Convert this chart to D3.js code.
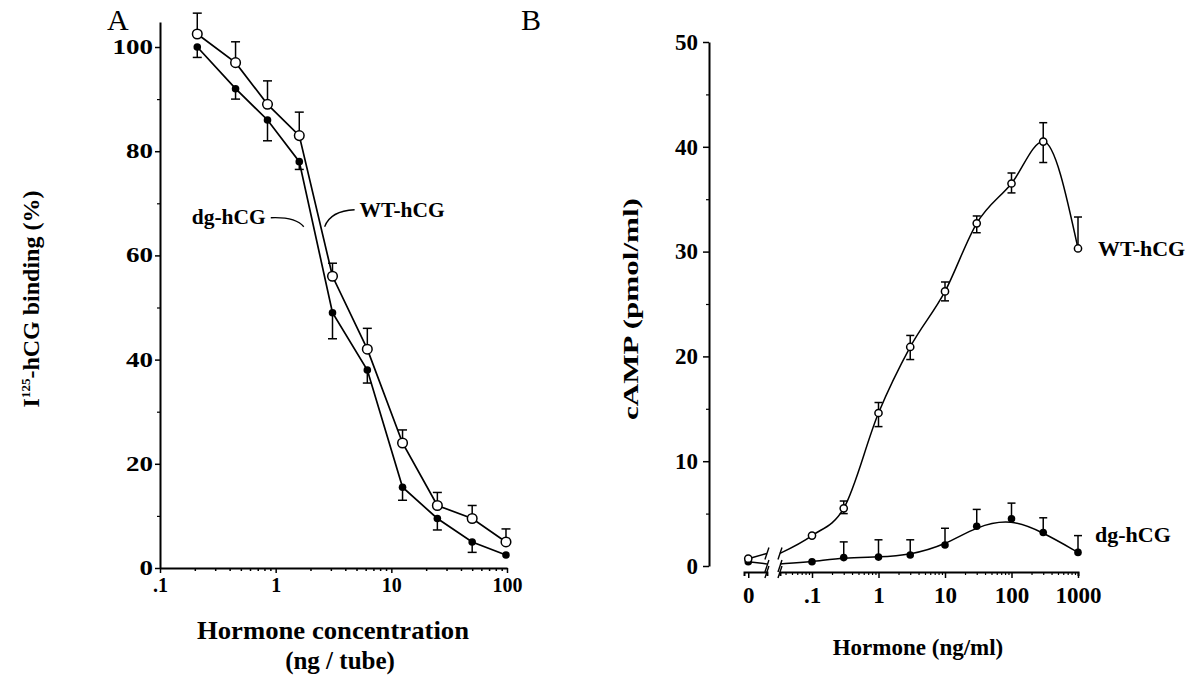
<!DOCTYPE html>
<html>
<head>
<meta charset="utf-8">
<script src="https://cdn.jsdelivr.net/npm/d3@7/dist/d3.min.js"></script>
<style>
  body { margin: 0; background: #fff; }
  text { font-family: "Liberation Serif", "Times New Roman", serif; font-weight: bold; fill: #000; }
  .axis path, .axis line { stroke: #000; }
</style>
</head>
<body>
<svg id="fig" width="1203" height="679"></svg>
<script>
// ---- panel A: I125-hCG binding vs hormone concentration (ng / tube)
var concA = [0.21, 0.45, 0.85, 1.6, 3.1, 6.2, 12.5, 25, 50, 98];
var wtA   = [102.5, 97, 89, 83, 56, 42, 24, 12, 9.5, 5];
var wtAHi = [106.5, 101, 93.5, 87.5, 58.5, 46, 26.5, 14.5, 12, 7.5];
var dgA   = [100, 92, 86, 78, 49, 38, 15.5, 9.5, 5, 2.5];
var dgALo = [98, 90, 82, 76.5, 44, 35.5, 13, 7.3, 3, null];
var xTicksA = [0.1, 1, 10, 100],
    yTicksA = [0, 20, 40, 60, 80, 100],
    yMinorA = [10, 30, 50, 70, 90];

// ---- panel B: cAMP vs hormone (ng/ml); 0 is drawn on its own piece of axis
var concB = [0, 0.1, 0.3, 1, 3, 10, 30, 100, 300, 1000];
var wtB   = [0.7, 2.9, 5.5, 14.6, 20.9, 26.2, 32.7, 36.5, 40.5, 30.3];
var wtBHi = [null, null, 6.2, 15.6, 22.0, 27.1, 33.4, 37.5, 42.3, 33.3];
var wtBLo = [null, null, 5.0, 13.3, 19.7, 25.3, 31.8, 35.6, 38.5, null];
var dgB   = [0.4, 0.4, 0.8, 0.85, 1.05, 2.0, 3.8, 4.5, 3.2, 1.3];
var dgBHi = [null, null, 2.3, 2.5, 2.5, 3.6, 5.4, 6.0, 4.6, 2.9];
var wtStub = [1.2, 1.2],   // curve values at the two sides of the axis break
    dgStub = [0.2, 0.2];
var xTicksB = [0.1, 1, 10, 100, 1000],
    yTicksB = [0, 10, 20, 30, 40, 50],
    yMinorB = [5, 15, 25, 35, 45];
var zeroAt = 0.011,            // where the "0" column sits on the log axis
    seg1 = [0.0095, 0.021],    // short axis piece holding 0
    seg2 = [0.033, 1000];      // main log axis piece

var svg = d3.select("#fig");

function styleAxis(g, w) {
  g.select(".domain").attr("stroke-width", w);
  g.selectAll(".tick line").attr("stroke-width", 1.5);
}

function minorsOf(scale, majors) {
  return scale.ticks().filter(function(t) {
    return majors.every(function(m) { return Math.abs(t - m) / m > 1e-6; });
  });
}

// =================== panel A ===================
var xA = d3.scaleLog().domain([0.1, 100]).range([160, 507]),
    yA = d3.scaleLinear().domain([0, 104.8]).range([568, 22]);

var gA = svg.append("g");

var axA = gA.append("g").attr("class", "axis")
    .attr("transform", "translate(0," + yA(0) + ")")
    .call(d3.axisBottom(xA).tickValues(xTicksA).tickSize(5).tickSizeOuter(0).tickPadding(5)
      .tickFormat(function(d) { return d < 1 ? ".1" : d3.format("d")(d); }));
axA.selectAll("text").style("font-size", "20px");
styleAxis(axA, 2);

gA.append("g").attr("class", "axis")
    .attr("transform", "translate(0," + yA(0) + ")")
    .call(d3.axisBottom(xA).tickValues(minorsOf(xA, xTicksA)).tickSize(3).tickFormat(""))
    .call(function(g) { g.select(".domain").remove(); g.selectAll("line").attr("stroke-width", 1.5); });

var ayA = gA.append("g").attr("class", "axis")
    .attr("transform", "translate(" + xA(0.1) + ",0)")
    .call(d3.axisLeft(yA).tickValues(yTicksA).tickSize(5).tickSizeOuter(0).tickPadding(2));
ayA.selectAll("text").style("font-size", "20px")
    .attr("textLength", function(d) { return String(d).length * 13.5; })
    .attr("lengthAdjust", "spacingAndGlyphs");
styleAxis(ayA, 2);

gA.append("g").attr("class", "axis")
    .attr("transform", "translate(" + xA(0.1) + ",0)")
    .call(d3.axisLeft(yA).tickValues(yMinorA).tickSize(3).tickFormat(""))
    .call(function(g) { g.select(".domain").remove(); g.selectAll("line").attr("stroke-width", 1.2); });

var ptsWtA = concA.map(function(c, i) { return { x: c, y: wtA[i], e: wtAHi[i] }; });
var ptsDgA = concA.map(function(c, i) { return { x: c, y: dgA[i], e: dgALo[i] }; });

var lineA = d3.line().x(function(d) { return xA(d.x); }).y(function(d) { return yA(d.y); });

[ptsWtA, ptsDgA].forEach(function(pts) {
  gA.append("path").datum(pts).attr("d", lineA)
      .attr("fill", "none").attr("stroke", "#000").attr("stroke-width", 1.7);
});

function errorBars(g, pts, xs, ys, cap) {
  var eb = g.append("g").selectAll("g").data(pts.filter(function(d) { return d.e != null; }))
      .join("g").attr("stroke", "#000").attr("stroke-width", 1.5);
  eb.append("line")
      .attr("x1", function(d) { return xs(d.x); }).attr("x2", function(d) { return xs(d.x); })
      .attr("y1", function(d) { return ys(d.y); }).attr("y2", function(d) { return ys(d.e); });
  eb.append("line")
      .attr("x1", function(d) { return xs(d.x) - cap; }).attr("x2", function(d) { return xs(d.x) + cap; })
      .attr("y1", function(d) { return ys(d.e); }).attr("y2", function(d) { return ys(d.e); });
}
errorBars(gA, ptsWtA, xA, yA, 4.5);
errorBars(gA, ptsDgA, xA, yA, 4.5);

gA.append("g").selectAll("circle").data(ptsDgA).join("circle")
    .attr("cx", function(d) { return xA(d.x); }).attr("cy", function(d) { return yA(d.y); })
    .attr("r", 3.8).attr("fill", "#000");
gA.append("g").selectAll("circle").data(ptsWtA).join("circle")
    .attr("cx", function(d) { return xA(d.x); }).attr("cy", function(d) { return yA(d.y); })
    .attr("r", 4.8).attr("fill", "#fff").attr("stroke", "#000").attr("stroke-width", 1.5);

// leader labels
var dgTip = [xA(1.75), yA(65.5)], wtTip = [xA(2.65), yA(65.5)];
gA.append("path")
    .attr("d", "M" + (dgTip[0] - 33) + "," + (dgTip[1] - 9) + " Q" + (dgTip[0] - 8) + "," + (dgTip[1] - 10) + " " + dgTip[0] + "," + dgTip[1])
    .attr("fill", "none").attr("stroke", "#000").attr("stroke-width", 1.3);
gA.append("path")
    .attr("d", "M" + wtTip[0] + "," + wtTip[1] + " Q" + (wtTip[0] + 6) + "," + (wtTip[1] - 16) + " " + (wtTip[0] + 30) + "," + (wtTip[1] - 17))
    .attr("fill", "none").attr("stroke", "#000").attr("stroke-width", 1.3);
gA.append("text").attr("x", dgTip[0] - 38).attr("y", dgTip[1] - 3).attr("text-anchor", "end")
    .style("font-size", "20px").attr("textLength", 74).attr("lengthAdjust", "spacingAndGlyphs")
    .text("dg-hCG");
gA.append("text").attr("x", wtTip[0] + 35).attr("y", wtTip[1] - 10)
    .style("font-size", "20px").attr("textLength", 85).attr("lengthAdjust", "spacingAndGlyphs")
    .text("WT-hCG");

gA.append("text").attr("x", 333).attr("y", 639).attr("text-anchor", "middle")
    .style("font-size", "25px").attr("textLength", 272).attr("lengthAdjust", "spacingAndGlyphs")
    .text("Hormone concentration");
gA.append("text").attr("x", 340).attr("y", 669).attr("text-anchor", "middle")
    .style("font-size", "25px").text("(ng / tube)");

var yTitleA = gA.append("text").attr("transform", "translate(39,299) rotate(-90)")
    .attr("text-anchor", "middle").style("font-size", "24px");
yTitleA.append("tspan").text("I");
yTitleA.append("tspan").attr("dy", -9).style("font-size", "13px").text("125");
yTitleA.append("tspan").attr("dy", 9).text("-hCG binding (%)");

svg.append("text").attr("x", 107).attr("y", 30).style("font-weight", "normal")
    .style("font-size", "30px").text("A");

// =================== panel B ===================
var xB = d3.scaleLog().domain([0.1, 1000]).range([812, 1078]),
    yB = d3.scaleLinear().domain([0, 50]).range([566, 42]);
var axisY = 572;
function px(c) { return xB(c === 0 ? zeroAt : c); }

var gB = svg.append("g");

var ayB = gB.append("g").attr("class", "axis")
    .attr("transform", "translate(709,0)")
    .call(d3.axisLeft(yB).tickValues(yTicksB).tickSize(6).tickSizeOuter(0).tickPadding(5));
ayB.selectAll("text").style("font-size", "23px");
styleAxis(ayB, 2);
gB.append("g").attr("class", "axis")
    .attr("transform", "translate(709,0)")
    .call(d3.axisLeft(yB).tickValues(yMinorB).tickSize(3).tickFormat(""))
    .call(function(g) { g.select(".domain").remove(); g.selectAll("line").attr("stroke-width", 1.2); });

var xSeg2 = xB.copy().domain(seg2).range(seg2.map(function(v) { return xB(v); }));
var xSeg1 = xB.copy().domain(seg1).range(seg1.map(function(v) { return xB(v); }));

var axB = gB.append("g").attr("class", "axis")
    .attr("transform", "translate(0," + axisY + ")")
    .call(d3.axisBottom(xSeg2).tickValues(xTicksB).tickSize(6).tickSizeOuter(4).tickPadding(9)
      .tickFormat(function(d) { return d < 1 ? ".1" : d3.format("d")(d); }));
axB.selectAll("text").style("font-size", "23px");
styleAxis(axB, 2);
gB.append("g").attr("class", "axis")
    .attr("transform", "translate(0," + axisY + ")")
    .call(d3.axisBottom(xSeg2).tickValues(minorsOf(xSeg2, xTicksB)).tickSize(3).tickFormat(""))
    .call(function(g) { g.select(".domain").remove(); g.selectAll("line").attr("stroke-width", 1.2); });

var axB0 = gB.append("g").attr("class", "axis")
    .attr("transform", "translate(0," + axisY + ")")
    .call(d3.axisBottom(xSeg1).tickValues([zeroAt]).tickSize(6).tickSizeOuter(4).tickPadding(9)
      .tickFormat(function() { return "0"; }));
axB0.selectAll("text").style("font-size", "23px");
styleAxis(axB0, 2);

var ptsWtB = concB.map(function(c, i) { return { x: c, y: wtB[i], lo: wtBLo[i], hi: wtBHi[i] }; });
var ptsDgB = concB.map(function(c, i) { return { x: c, y: dgB[i], lo: null, hi: dgBHi[i] }; });

var lineB = d3.line().x(function(d) { return px(d.x); }).y(function(d) { return yB(d.y); });

function drawCurve(pts, stub, curve) {
  gB.append("path").datum([pts[0], { x: seg1[1], y: stub[0] }]).attr("d", lineB)
      .attr("fill", "none").attr("stroke", "#000").attr("stroke-width", 1.5);
  gB.append("path").datum([{ x: seg2[0], y: stub[1] }].concat(pts.slice(1)))
      .attr("d", lineB.curve(curve))
      .attr("fill", "none").attr("stroke", "#000").attr("stroke-width", 1.5);
  lineB.curve(d3.curveLinear);
}
drawCurve(ptsWtB, wtStub, d3.curveMonotoneX);
drawCurve(ptsDgB, dgStub, d3.curveBasis);

// break marks on the curves and the axis
var breaks = [];
[seg1[1], seg2[0]].forEach(function(b, k) {
  breaks.push({ x: xB(b), y: yB(wtStub[k]) });
  breaks.push({ x: xB(b), y: yB(dgStub[k]) + 2 });
  breaks.push({ x: xB(b), y: axisY });
});
gB.append("g").selectAll("line").data(breaks).join("line")
    .attr("x1", function(d) { return d.x - 2; }).attr("y1", function(d) { return d.y + 6; })
    .attr("x2", function(d) { return d.x + 2; }).attr("y2", function(d) { return d.y - 6; })
    .attr("stroke", "#000").attr("stroke-width", 1.4);

function errorBarsB(pts) {
  var eb = gB.append("g").selectAll("g").data(pts.filter(function(d) { return d.hi != null; }))
      .join("g").attr("stroke", "#000").attr("stroke-width", 1.5);
  eb.append("line")
      .attr("x1", function(d) { return px(d.x); }).attr("x2", function(d) { return px(d.x); })
      .attr("y1", function(d) { return yB(d.lo != null ? d.lo : d.y); })
      .attr("y2", function(d) { return yB(d.hi); });
  eb.append("line")
      .attr("x1", function(d) { return px(d.x) - 4; }).attr("x2", function(d) { return px(d.x) + 4; })
      .attr("y1", function(d) { return yB(d.hi); }).attr("y2", function(d) { return yB(d.hi); });
  eb.filter(function(d) { return d.lo != null; }).append("line")
      .attr("x1", function(d) { return px(d.x) - 4; }).attr("x2", function(d) { return px(d.x) + 4; })
      .attr("y1", function(d) { return yB(d.lo); }).attr("y2", function(d) { return yB(d.lo); });
}
errorBarsB(ptsWtB);
errorBarsB(ptsDgB);

gB.append("g").selectAll("circle").data(ptsDgB).join("circle")
    .attr("cx", function(d) { return px(d.x); }).attr("cy", function(d) { return yB(d.y); })
    .attr("r", 3.8).attr("fill", "#000");
gB.append("g").selectAll("circle").data(ptsWtB).join("circle")
    .attr("cx", function(d) { return px(d.x); }).attr("cy", function(d) { return yB(d.y); })
    .attr("r", 3.6).attr("fill", "#fff").attr("stroke", "#000").attr("stroke-width", 1.5);

gB.append("text").attr("x", xB(1000) + 20).attr("y", yB(wtB[9]) + 8)
    .style("font-size", "22px").text("WT-hCG");
gB.append("text").attr("x", xB(1000) + 17).attr("y", yB(dgB[9]) - 10)
    .style("font-size", "22px").text("dg-hCG");

gB.append("text").attr("x", 918).attr("y", 655).attr("text-anchor", "middle")
    .style("font-size", "23px").text("Hormone (ng/ml)");
gB.append("text").attr("transform", "translate(638,309) rotate(-90)")
    .attr("text-anchor", "middle").style("font-size", "22px")
    .attr("textLength", 222).attr("lengthAdjust", "spacingAndGlyphs")
    .text("cAMP (pmol/ml)");

svg.append("text").attr("x", 521).attr("y", 30).style("font-weight", "normal")
    .style("font-size", "30px").text("B");
</script>
</body>
</html>
